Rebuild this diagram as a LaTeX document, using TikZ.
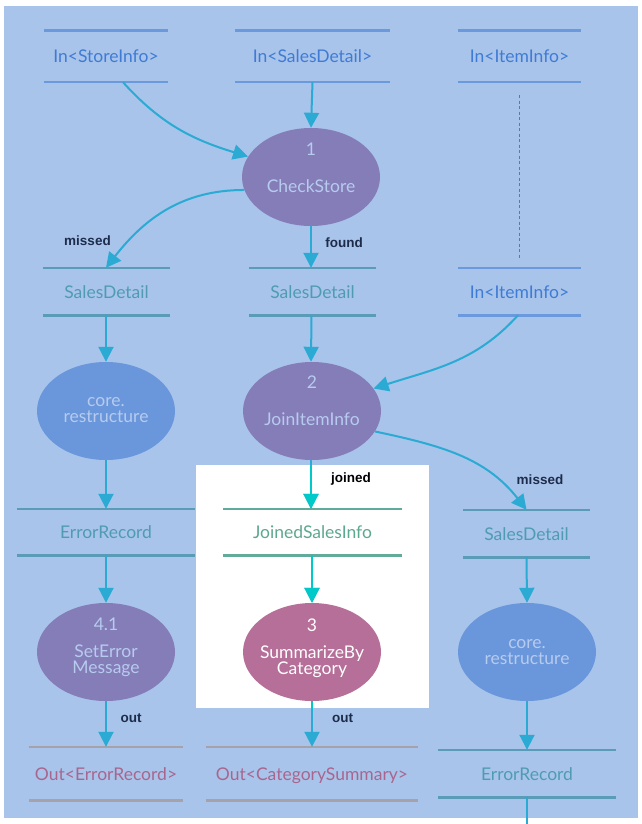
\documentclass[tikz,border=0pt]{standalone}
\usepackage{fontspec}
\setmainfont{Lato}
\newfontfamily\lblfont{Liberation Sans}
\usetikzlibrary{shapes.geometric,arrows.meta}

\definecolor{bgblue}{HTML}{A8C4EA}
\definecolor{inline}{HTML}{6A99DD}
\definecolor{intext}{HTML}{3F7BD5}
\definecolor{tealline}{HTML}{5A9BB8}
\definecolor{tealtext}{HTML}{4F9BB3}
\definecolor{greenline}{HTML}{62AB9B}
\definecolor{greentext}{HTML}{5DA890}
\definecolor{outgray}{HTML}{A6A2AA}
\definecolor{outtext}{HTML}{A8668F}
\definecolor{procpurple}{HTML}{857DB8}
\definecolor{procblue}{HTML}{6A97DB}
\definecolor{procpink}{HTML}{B66F98}
\definecolor{proctxt}{HTML}{B7CBEF}
\definecolor{flowc}{HTML}{2BABD3}
\definecolor{flowin}{HTML}{00C9C9}
\definecolor{lblc}{HTML}{1E2C4C}

\tikzset{
  storebox/.style={rectangle, inner sep=0pt, text height=13pt, text depth=0pt,
    font=\fontsize{17.5}{17.5}\selectfont},
  storeline/.style={line width=2.6pt},
  proc/.style={ellipse, minimum width=138pt, minimum height=98pt, inner sep=0pt, draw=none},
  % anchored at the baseline of the last line
  proctext/.style={anchor=base, inner sep=0pt, text=proctxt, align=center,
    font=\fontsize{17.5}{16}\selectfont},
  flowarrow/.style={draw=flowc, line width=2pt, -{Triangle[length=15pt,width=15pt]}},
  flowline/.style={draw=flowc, line width=2pt},
  flowlbl/.style={anchor=base, inner sep=0pt, text=lblc,
    font=\lblfont\bfseries\fontsize{13.5}{13.5}\selectfont}
}

% name, x, y, width, height, line colour, text colour, text
\newcommand\datastore[8]{%
  \node[storebox, minimum width=#4pt, minimum height=#5pt, text=#7] (#1) at (#2,#3) {#8};
  \draw[storeline, draw=#6] (#1.north west) -- (#1.north east)
                            (#1.south west) -- (#1.south east);
}

\begin{document}
\begin{tikzpicture}[x=1pt,y=-1pt]
\useasboundingbox (0,0) rectangle (642,824);
\fill[white] (0,0) rectangle (642,824);
\fill[bgblue] (4,6) rectangle (638,818);
\coordinate (boxtl) at (196,465);
\coordinate (boxbr) at (429,708);
\fill[white] (boxtl) rectangle (boxbr);

% data stores
\datastore{inStore}{106}{56.5}{124}{51}{inline}{intext}{In<StoreInfo>}
\datastore{inSales}{312.5}{56.5}{155}{51}{inline}{intext}{In<SalesDetail>}
\datastore{inItem}{519.5}{56.5}{123}{51}{inline}{intext}{In<ItemInfo>}
\datastore{sdLeft}{106.5}{291.5}{127}{47}{tealline}{tealtext}{SalesDetail}
\datastore{sdMid}{312.5}{291.5}{127}{47}{tealline}{tealtext}{SalesDetail}
\datastore{inItemB}{519.5}{291.5}{123}{47}{inline}{intext}{In<ItemInfo>}
\datastore{errLeft}{106}{532}{178}{46}{tealline}{tealtext}{ErrorRecord}
\datastore{joinedS}{312.5}{532}{179}{46}{greenline}{greentext}{JoinedSalesInfo}
\datastore{sdRight}{526.5}{533.5}{127}{47}{tealline}{tealtext}{SalesDetail}
\datastore{outErr}{106}{773.5}{154}{53}{outgray}{outtext}{Out<ErrorRecord>}
\datastore{outCat}{312}{773.5}{212}{53}{outgray}{outtext}{Out<CategorySummary>}
\datastore{errRight}{527}{773.5}{178}{47}{tealline}{tealtext}{ErrorRecord}

% processes
\node[proc, fill=procpurple] (check) at (311,177) {};
\node[proctext] (checkNum) at (311,155) {1};
\node[proctext] (checkName) at (311,192) {CheckStore};

\node[proc, fill=procblue] (coreL) at (106,411) {};
\node[proctext] (coreLtxt) at (106,422) {core.\\restructure};

\node[proc, fill=procpurple] (join) at (312,411) {};
\node[proctext] (joinNum) at (312,388) {2};
\node[proctext] (joinName) at (312,425) {JoinItemInfo};

\node[proc, fill=procpurple] (seterr) at (106,652) {};
\node[proctext] (seterrNum) at (106,630) {4.1};
\node[proctext] (seterrTxt) at (106,673) {SetError\\Message};

\node[proc, fill=procpink] (summ) at (312,652) {};
\node[proctext, text=white] (summNum) at (312,631) {3};
\node[proctext, text=white] (summTxt) at (312,674) {SummarizeBy\\Category};

\node[proc, fill=procblue] (coreR) at (527,652) {};
\node[proctext] (coreRtxt) at (527,664) {core.\\restructure};

% link between the two ItemInfo inputs
\draw[draw=inline!80!black, line width=0.7pt, dash pattern=on 3pt off 2.5pt]
  ([yshift=-13pt]inItem.south) -- ([yshift=10pt]inItemB.north);

% flows
\draw[flowarrow] ([xshift=17pt]inStore.south) to[out=-48, in=163] (check.162);
\draw[flowarrow] (inSales.south) -- (check.north);
\draw[flowarrow] (check.191) to[out=180, in=52] ([xshift=-0.5pt]sdLeft.north);
\draw[flowarrow] (check.south) -- ([xshift=-1.5pt]sdMid.north);
\draw[flowarrow] ([xshift=-0.5pt]sdLeft.south) -- (coreL.north);
\draw[flowarrow] ([xshift=-1pt]sdMid.south) -- ([xshift=-1pt]join.north);
\draw[flowarrow] ([xshift=-1.5pt]inItemB.south) to[out=-132, in=18] (join.20);
\draw[flowarrow] (coreL.south) -- (errLeft.north);
\draw[flowarrow] ([xshift=-1pt]join.south) -- ([xshift=-1.5pt]joinedS.north);
\draw[flowarrow] (join.-18) to[out=-12, in=128] (sdRight.north);
\draw[flowarrow] (errLeft.south) -- (seterr.north);
\draw[flowarrow] ([xshift=-0.5pt]joinedS.south) -- (summ.north);
\draw[flowarrow] (sdRight.south) -- (coreR.north);
\draw[flowarrow] (seterr.south) -- (outErr.north);
\draw[flowarrow] (summ.south) -- (outCat.north);
\draw[flowarrow] (coreR.south) -- (errRight.north);
\coordinate (exitR) at (527,830);
\draw[flowline] (errRight.south) -- (exitR);

% flows inside the white panel are drawn in turquoise
\begin{scope}
  \clip (boxtl) rectangle (boxbr);
  \draw[flowarrow, draw=flowin] ([xshift=-1pt]join.south) -- ([xshift=-1.5pt]joinedS.north);
  \draw[flowarrow, draw=flowin] ([xshift=-0.5pt]joinedS.south) -- (summ.north);
  \draw[flowarrow, draw=flowin] (summ.south) -- (outCat.north);
\end{scope}

% flow labels
\node[flowlbl] (lMissL) at (87.5,245) {missed};
\node[flowlbl] (lFound) at (344,247) {found};
\node[flowlbl, text=black] (lJoined) at (351,482) {joined};
\node[flowlbl] (lMissR) at (540,484) {missed};
\node[flowlbl] (lOutL) at (131,722) {out};
\node[flowlbl] (lOutM) at (342.5,722) {out};
\end{tikzpicture}
\end{document}
